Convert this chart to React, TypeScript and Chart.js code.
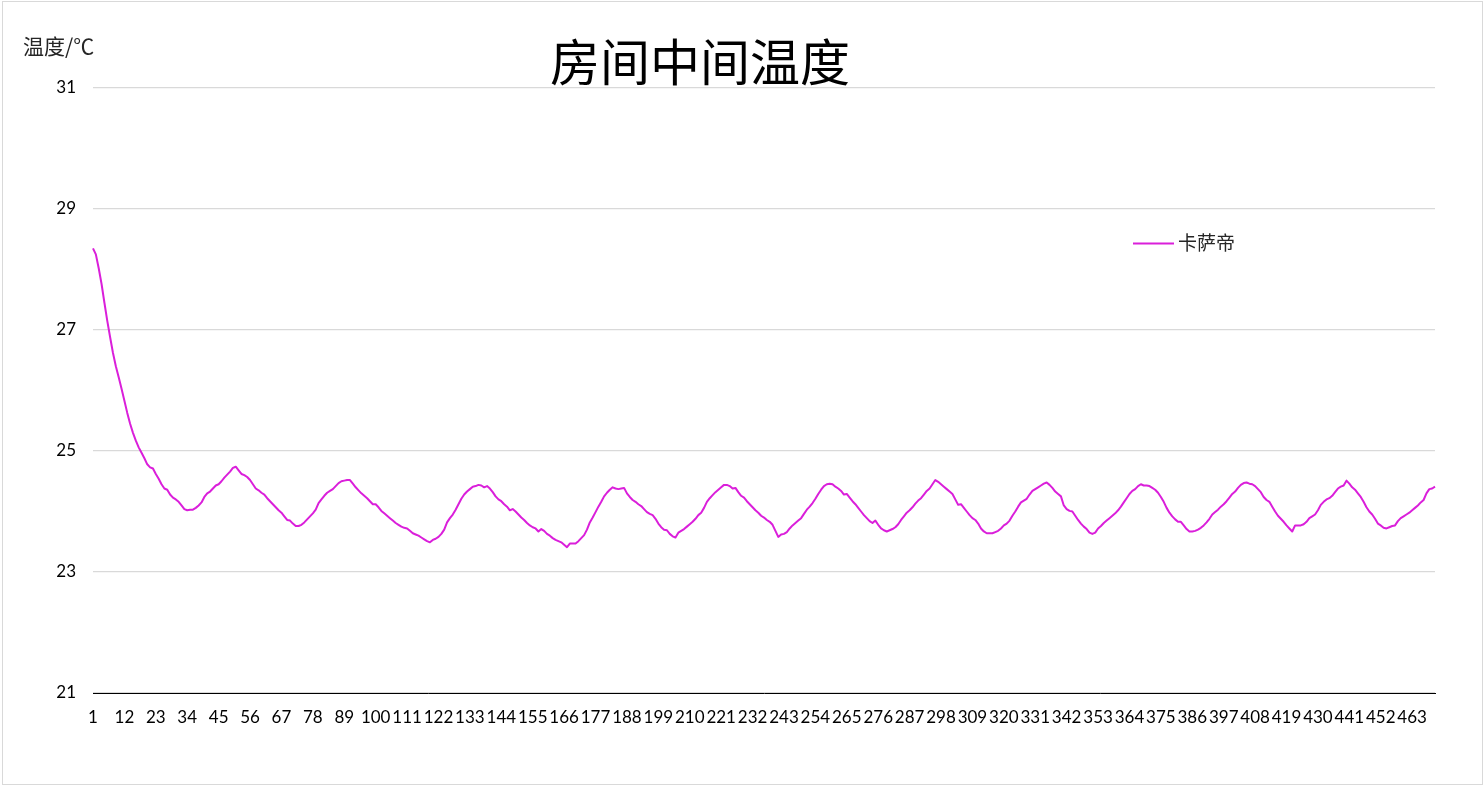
import { useEffect, useRef } from "react";
import { Chart, registerables } from "chart.js";

Chart.register(...registerables);

const chartTitle = "房间中间温度";
const yAxisTitle = "温度/℃";
const seriesName = "卡萨帝";

const temps: number[] = [
  28.35, 28.25, 28.02, 27.76, 27.45, 27.15, 26.88, 26.62, 26.4, 26.22,
  26.03, 25.83, 25.63, 25.45, 25.3, 25.17, 25.06, 24.97, 24.88, 24.78,
  24.73, 24.71, 24.62, 24.54, 24.45, 24.38, 24.36, 24.28, 24.23, 24.2,
  24.16, 24.1, 24.04, 24.02, 24.03, 24.03, 24.06, 24.1, 24.15, 24.24,
  24.3, 24.33, 24.38, 24.43, 24.45, 24.5, 24.56, 24.61, 24.66, 24.72,
  24.74, 24.68, 24.62, 24.6, 24.57, 24.52, 24.45, 24.38, 24.35, 24.31,
  24.28, 24.22, 24.17, 24.12, 24.07, 24.02, 23.98, 23.92, 23.86, 23.85,
  23.8, 23.76, 23.76, 23.78, 23.82, 23.87, 23.92, 23.97, 24.03, 24.14,
  24.2, 24.26, 24.31, 24.34, 24.37, 24.42, 24.47, 24.5, 24.51, 24.52,
  24.52, 24.46, 24.4, 24.35, 24.3, 24.26, 24.22, 24.17, 24.12, 24.12,
  24.07, 24.01, 23.97, 23.93, 23.89, 23.85, 23.81, 23.78, 23.75, 23.73,
  23.72, 23.68, 23.64, 23.62, 23.6, 23.57, 23.54, 23.51, 23.49, 23.53,
  23.55, 23.58, 23.63, 23.7, 23.82, 23.89, 23.95, 24.03, 24.12, 24.21,
  24.28, 24.33, 24.37, 24.41, 24.42, 24.44, 24.43, 24.4, 24.42, 24.38,
  24.32, 24.25, 24.2, 24.17, 24.12, 24.08, 24.02, 24.04, 24.0, 23.95,
  23.9, 23.86, 23.81, 23.77, 23.74, 23.72, 23.67, 23.71, 23.68, 23.63,
  23.6, 23.56, 23.53, 23.51, 23.49, 23.45, 23.41, 23.47, 23.47, 23.47,
  23.51, 23.56, 23.61, 23.7, 23.82, 23.9, 23.99, 24.08, 24.16, 24.25,
  24.31, 24.36, 24.4, 24.38, 24.37, 24.38, 24.39, 24.3, 24.24, 24.19,
  24.16, 24.12, 24.09, 24.04, 23.99, 23.96, 23.94, 23.88, 23.8, 23.74,
  23.7, 23.69, 23.63, 23.59, 23.57, 23.65, 23.68, 23.71, 23.75, 23.79,
  23.83, 23.88, 23.94, 23.98, 24.06, 24.16, 24.22, 24.27, 24.32, 24.36,
  24.4, 24.44, 24.44, 24.42, 24.38, 24.39, 24.32, 24.26, 24.23, 24.17,
  24.12, 24.07, 24.02, 23.98, 23.93, 23.9, 23.86, 23.83, 23.78, 23.68,
  23.58, 23.62, 23.63, 23.66, 23.72, 23.77, 23.81, 23.85, 23.89, 23.96,
  24.03, 24.08, 24.14, 24.21, 24.29, 24.36, 24.42, 24.45, 24.46, 24.45,
  24.41, 24.38, 24.34, 24.28, 24.29, 24.23, 24.17, 24.12, 24.06, 24.0,
  23.94, 23.89, 23.84, 23.81, 23.85, 23.78, 23.72, 23.69, 23.67, 23.69,
  23.71, 23.74, 23.79, 23.86, 23.92, 23.98, 24.02, 24.07, 24.13, 24.18,
  24.22, 24.28, 24.34, 24.38, 24.45, 24.52, 24.49, 24.45, 24.41, 24.37,
  24.33, 24.29, 24.2, 24.11, 24.12, 24.06, 24.0, 23.94, 23.89, 23.86,
  23.8, 23.72, 23.67, 23.64, 23.64, 23.64, 23.66, 23.68, 23.72, 23.77,
  23.8, 23.85, 23.93, 24.0, 24.08, 24.15, 24.18, 24.21, 24.28, 24.34,
  24.37, 24.4, 24.43, 24.46, 24.48, 24.44, 24.39, 24.33, 24.29, 24.25,
  24.1, 24.04, 24.01, 24.0, 23.93, 23.86, 23.8, 23.75, 23.71, 23.65,
  23.63, 23.65, 23.72, 23.76, 23.81, 23.85, 23.89, 23.93, 23.97, 24.02,
  24.08, 24.15, 24.22, 24.29, 24.34, 24.37, 24.42, 24.45, 24.43, 24.43,
  24.42, 24.39, 24.36, 24.31, 24.24, 24.16, 24.06, 23.98, 23.92, 23.87,
  23.83, 23.83, 23.77, 23.71, 23.67, 23.67, 23.68, 23.7, 23.73, 23.77,
  23.82, 23.88, 23.95, 23.99, 24.03, 24.08, 24.12, 24.17, 24.23, 24.29,
  24.33, 24.39, 24.44, 24.47, 24.48, 24.46, 24.45, 24.42, 24.37, 24.32,
  24.24, 24.19, 24.16, 24.08, 24.0, 23.93, 23.88, 23.83, 23.77, 23.72,
  23.67, 23.77, 23.77, 23.77, 23.79, 23.83, 23.89, 23.92, 23.95, 24.02,
  24.11, 24.16, 24.2, 24.22, 24.26, 24.32, 24.38, 24.41, 24.43, 24.51,
  24.46, 24.4, 24.36, 24.3, 24.24, 24.16, 24.07, 24.0, 23.95, 23.88,
  23.8, 23.77, 23.73, 23.72, 23.74, 23.76, 23.77, 23.84, 23.89, 23.92,
  23.95, 23.98, 24.02, 24.06, 24.1, 24.15, 24.19, 24.3, 24.37, 24.38,
  24.41,
];

const categories: string[] = temps.map((_, i) => String(i + 1));

const xTickLabels: string[] = [
  "1", "12", "23", "34", "45", "56", "67", "78", "89", "100", "111", "122",
  "133", "144", "155", "166", "177", "188", "199", "210", "221", "232", "243",
  "254", "265", "276", "287", "298", "309", "320", "331", "342", "353", "364",
  "375", "386", "397", "408", "419", "430", "441", "452", "463",
];

const yTicks: number[] = [21, 23, 25, 27, 29, 31];

const W = 1484;
const H = 786;
const LINE_COLOR = "#DA1FDA";
const CJK = "'Noto Sans CJK SC', sans-serif";
const TICK_FONT = "Lato, 'Noto Sans CJK SC', sans-serif";

const decorPlugin = {
  id: "decor",
  beforeDraw(chart: any) {
    const ctx = chart.ctx as CanvasRenderingContext2D;
    ctx.save();
    ctx.fillStyle = "#ffffff";
    ctx.fillRect(0, 0, chart.width, chart.height);
    ctx.strokeStyle = "#d9d9d9";
    ctx.lineWidth = 1;
    ctx.strokeRect(2.5, 1.5, chart.width - 4, chart.height - 3);
    ctx.restore();
  },
  afterDraw(chart: any) {
    const ctx = chart.ctx as CanvasRenderingContext2D;
    ctx.save();
    // title
    ctx.fillStyle = "#000000";
    ctx.font = `normal 50px ${CJK}`;
    ctx.textAlign = "center";
    ctx.textBaseline = "middle";
    ctx.fillText(chartTitle, 700, 62);
    // y axis title
    ctx.fillStyle = "#262626";
    ctx.font = `normal 21px ${CJK}`;
    ctx.textAlign = "left";
    ctx.fillText(yAxisTitle, 23, 46);
    // legend
    const ds = chart.data.datasets[0];
    ctx.strokeStyle = ds.borderColor;
    ctx.lineWidth = 2;
    ctx.beginPath();
    ctx.moveTo(1133, 243.5);
    ctx.lineTo(1174, 243.5);
    ctx.stroke();
    ctx.fillStyle = "#262626";
    ctx.font = `normal 19px ${CJK}`;
    ctx.textAlign = "left";
    ctx.textBaseline = "middle";
    ctx.fillText(ds.label, 1178, 243);
    ctx.restore();
  },
};

export default function App() {
  const ref = useRef<HTMLCanvasElement | null>(null);

  useEffect(() => {
    if (!ref.current) return;
    const xSet = new Set(xTickLabels);
    const chart = new Chart(ref.current, {
      type: "line",
      data: {
        labels: categories,
        datasets: [
          {
            label: seriesName,
            data: temps,
            borderColor: LINE_COLOR,
            backgroundColor: LINE_COLOR,
            borderWidth: 2,
            pointRadius: 0,
            pointHoverRadius: 0,
            tension: 0,
            fill: false,
            borderJoinStyle: "round",
          },
        ],
      },
      plugins: [decorPlugin],
      options: {
        animation: false,
        responsive: false,
        devicePixelRatio: 1,
        events: [],
        layout: { padding: { top: 88, right: 49, bottom: 0, left: 0 } },
        plugins: {
          legend: { display: false },
          title: { display: false },
          tooltip: { enabled: false },
        },
        scales: {
          x: {
            type: "category",
            offset: false,
            grid: { display: false, drawTicks: false },
            border: { display: true, color: "#000000", width: 1 },
            ticks: {
              autoSkip: false,
              maxRotation: 0,
              minRotation: 0,
              padding: 14,
              color: "#000000",
              font: { family: TICK_FONT, size: 17 },
              callback: (_v: any, index: number) =>
                xSet.has(categories[index]) ? categories[index] : "",
            },
            afterFit: (s: any) => {
              s.height = 93;
            },
          },
          y: {
            type: "linear",
            min: yTicks[0],
            max: yTicks[yTicks.length - 1],
            grid: {
              color: "#d9d9d9",
              lineWidth: 1.3,
              drawTicks: false,
            },
            border: { display: false },
            ticks: {
              padding: 17,
              color: "#000000",
              font: { family: TICK_FONT, size: 17 },
            },
            afterBuildTicks: (s: any) => {
              s.ticks = yTicks.map((v) => ({ value: v }));
            },
            afterFit: (s: any) => {
              s.width = 93;
            },
          },
        },
      },
    });
    return () => chart.destroy();
  }, []);

  return (
    <div style={{ position: "absolute", left: 0, top: 0, width: W, height: H }}>
      <canvas ref={ref} width={W} height={H} style={{ width: W, height: H, display: "block" }} />
    </div>
  );
}
